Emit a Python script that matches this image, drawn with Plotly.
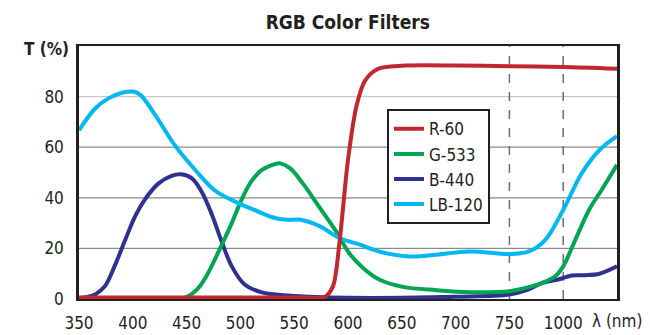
import plotly.graph_objects as go

# Transmission spectra, wavelength in nm and transmission in %
wl_r60 = [350, 400, 500, 560, 578, 586, 592, 600, 608, 616, 628, 650, 700, 750, 1000, 1200]
t_r60 = [0.6, 0.6, 0.6, 0.6, 0.7, 5.0, 22.0, 55.0, 76.5, 86.4, 91.0, 92.2, 92.3, 92.0, 91.7, 91.0]

wl_g533 = [350, 400, 440, 450, 461, 470, 482, 492, 501, 510, 520, 532, 537, 546, 558, 574,
           589, 601, 614, 629, 651, 682, 713, 750, 826, 902, 963, 1000, 1045, 1096, 1147, 1200]
t_g533 = [0.3, 0.3, 0.3, 0.8, 4.4, 10.3, 20.8, 30.0, 39.2, 46.4, 51.0, 53.3, 53.6, 51.7, 45.7, 35.9,
          26.7, 18.2, 12.3, 7.7, 4.8, 3.5, 2.7, 3.1, 4.4, 6.4, 9.0, 12.9, 23.4, 35.2, 43.8, 53.0]

wl_b440 = [350, 358, 365, 374, 383, 393, 402, 411, 424, 436, 445, 455, 464, 473, 482, 492, 504,
           520, 540, 565, 600, 650, 700, 750, 830, 905, 977, 1032, 1080, 1135, 1200]
t_b440 = [0.3, 0.8, 1.8, 5.0, 12.9, 23.4, 32.6, 39.2, 45.7, 48.7, 49.3, 47.7, 42.4, 33.9, 23.4, 12.9, 5.7,
          2.6, 1.5, 0.9, 0.5, 0.5, 0.9, 1.8, 3.5, 6.4, 7.7, 9.3, 9.4, 10.0, 12.9]

wl_lb120 = [350, 365, 377, 390, 400, 407, 421, 439, 458, 476, 495, 513, 532, 543, 556, 574,
            592, 611, 629, 657, 682, 713, 750, 841, 917, 1000, 1069, 1135, 1200]
t_lb120 = [66.7, 75.3, 79.2, 81.5, 82.0, 80.7, 72.6, 60.8, 51.0, 43.0, 38.5, 35.2, 32.0, 31.3, 31.3, 28.7,
           24.1, 21.5, 18.8, 16.8, 17.5, 18.8, 17.8, 18.8, 23.4, 35.2, 49.7, 58.9, 64.4]

series_names = ["R-60", "G-533", "B-440", "LB-120"]
series_colors = ["#c1272d", "#00a651", "#2e3192", "#00b9f2"]
series_smoothing = [0.8, 1.0, 1.0, 1.0]

x_tick_values = [350, 400, 450, 500, 550, 600, 650, 700, 750, 1000]
x_tick_labels = ["350", "400", "450", "500", "550", "600", "650", "700", "750", "1000"]
y_tick_values = [0, 20, 40, 60, 80]
marked_wavelengths = [750, 1000]


def axis_pos(wl):
    """Broken wavelength scale: linear to 750 nm, then compressed segments."""
    if wl <= 750:
        return wl
    if wl <= 1000:
        return 750 + (wl - 750) * 0.2
    return 800 + (wl - 1000) * 0.25


FONT = "DejaVu Sans Condensed, Liberation Sans Narrow, sans-serif"
INK = "#231f20"

fig = go.Figure()

# horizontal grid lines
for v in y_tick_values[1:]:
    fig.add_shape(type="line", xref="paper", x0=0, x1=1, yref="y", y0=v, y1=v,
                  line=dict(color="#c8c8c8" if v == 80 else "#8a8a8a", width=1.2), layer="below")

# dashed markers at the scale break wavelengths
for wl in marked_wavelengths:
    fig.add_shape(type="line", xref="x", x0=axis_pos(wl), x1=axis_pos(wl), yref="paper", y0=0, y1=1,
                  line=dict(color="#6d6d6d", width=1.5, dash="dash"), layer="below")

data = {"R-60": (wl_r60, t_r60), "G-533": (wl_g533, t_g533),
        "B-440": (wl_b440, t_b440), "LB-120": (wl_lb120, t_lb120)}

# draw order: blue, green, light blue, red on top; legend keeps R, G, B, LB
for name in ["B-440", "G-533", "LB-120", "R-60"]:
    i = series_names.index(name)
    wl, t = data[name]
    fig.add_trace(go.Scatter(
        x=[axis_pos(w) for w in wl], y=t, name=name, mode="lines",
        legendrank=i + 1,
        line=dict(color=series_colors[i], width=4, shape="spline", smoothing=series_smoothing[i]),
    ))

fig.update_layout(
    width=650, height=335,
    margin=dict(l=79, r=33, t=45.5, b=35.5, autoexpand=False),
    paper_bgcolor="white", plot_bgcolor="white",
    font=dict(family=FONT, size=17, color=INK),
    title=dict(text="<b>RGB Color Filters</b>", x=0.535, xanchor="center",
               y=0.934, yanchor="middle", font=dict(family=FONT, size=19, color=INK)),
    legend=dict(
        x=0.5725, y=0.75, xanchor="left", yanchor="top",
        bordercolor=INK, borderwidth=2, bgcolor="white",
        font=dict(family=FONT, size=17, color=INK),
        itemwidth=30, tracegroupgap=0,
    ),
    showlegend=True,
)

fig.update_xaxes(
    range=[350, axis_pos(1200)], automargin=False,
    tickvals=[axis_pos(v) for v in x_tick_values], ticktext=x_tick_labels,
    showgrid=False, zeroline=False, ticks="",
    showline=True, linecolor=INK, linewidth=2, mirror=True,
    ticklabelstandoff=8, tickfont=dict(size=17),
)
fig.update_yaxes(
    range=[0, 100], tickvals=y_tick_values, automargin=False,
    showgrid=False, zeroline=False, ticks="",
    showline=True, linecolor=INK, linewidth=2.5, mirror=True,
    ticklabelstandoff=9, tickfont=dict(size=17),
)

fig.add_annotation(text="<b>T (%)</b>", xref="paper", yref="paper", x=-0.061, y=0.99,
                   xanchor="center", yanchor="middle", showarrow=False,
                   font=dict(family=FONT, size=17, color=INK))
fig.add_annotation(text="λ (nm)", xref="paper", yref="paper", x=1.0, y=-0.085,
                   xanchor="center", yanchor="middle", showarrow=False,
                   font=dict(family=FONT, size=17, color=INK))

fig.write_html("out.html")
